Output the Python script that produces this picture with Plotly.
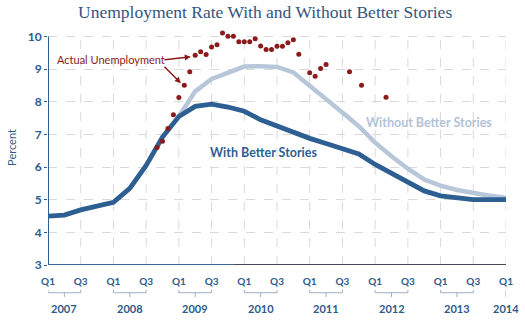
import plotly.graph_objects as go

# Quarter index 0 = 2007 Q1 ... 28 = 2014 Q1
quarters = list(range(29))

with_stories = [4.50, 4.53, 4.69, 4.79, 4.92, 5.35, 6.05, 6.92, 7.55, 7.86,
                7.93, 7.84, 7.71, 7.45, 7.26, 7.04, 6.88, 6.72, 6.57, 6.40,
                6.08, 5.80, 5.53, 5.27, 5.12, 5.05, 5.00, 5.00, 5.00]

without_q = list(range(8, 29))
without_stories = [7.55, 8.32, 8.70, 8.88, 9.08, 9.09, 9.07, 8.90, 8.50, 8.07,
                   7.67, 7.25, 6.75, 6.33, 5.95, 5.62, 5.43, 5.30, 5.20, 5.12,
                   5.06]

# Actual unemployment readings, months since Jan 2007
actual_month = [20, 21, 22, 23, 24, 25, 26, 27, 28, 29, 30, 31, 32, 33, 34,
                35, 36, 37, 38, 39, 40, 41, 42, 43, 44, 45, 46, 48, 49, 50,
                51, 55.3, 57.5, 62]
actual_rate = [6.60, 6.79, 7.18, 7.60, 8.13, 8.51, 8.92, 9.43, 9.53, 9.45,
               9.68, 9.75, 10.11, 10.01, 10.01, 9.84, 9.84, 9.84, 9.93, 9.71,
               9.60, 9.60, 9.70, 9.70, 9.81, 9.90, 9.46, 8.89, 8.78, 9.02,
               9.14, 8.92, 8.51, 8.14]

tick_vals = list(range(0, 29, 2))
tick_text = ["Q1" if i % 2 == 0 else "Q3" for i in range(len(tick_vals))]
years = [2007, 2008, 2009, 2010, 2011, 2012, 2013]
last_year = 2014

DARK = "#2e5f93"
LIGHT = "#b7c7d9"
LIGHT_TEXT = "#b2c3d6"
RED = "#8b1a1a"
LABEL = "#2d5b8a"
BRACKET = "#9fb0c2"
GRID = "#d9d9d9"

Y_MIN, Y_MAX = 3, 10

fig = go.Figure()

fig.add_trace(go.Scatter(
    x=without_q, y=without_stories, mode="lines",
    line=dict(color=LIGHT, width=4.5), hoverinfo="skip", showlegend=False))
fig.add_trace(go.Scatter(
    x=quarters, y=with_stories, mode="lines",
    line=dict(color=DARK, width=4.8), hoverinfo="skip", showlegend=False))
fig.add_trace(go.Scatter(
    x=[m / 3 for m in actual_month], y=actual_rate, mode="markers",
    marker=dict(color=RED, size=5), cliponaxis=False,
    hoverinfo="skip", showlegend=False))

shapes = []
# vertical dashed grid at every Q1 / Q3
for xv in tick_vals[1:]:
    shapes.append(dict(type="line", xref="x", yref="y", x0=xv, x1=xv,
                       y0=Y_MIN, y1=Y_MAX, layer="below",
                       line=dict(color=GRID, width=1, dash="dash")))
# left axis line
shapes.append(dict(type="line", xref="x", yref="y", x0=0, x1=0, y0=Y_MIN, y1=Y_MAX,
                   line=dict(color=DARK, width=2)))
# bottom axis line: blue segment then dark segment
shapes.append(dict(type="line", xref="x", yref="y", x0=0, x1=11.3, y0=Y_MIN, y1=Y_MIN,
                   line=dict(color="#3a6896", width=2)))
shapes.append(dict(type="line", xref="x", yref="y", x0=11.3, x1=28, y0=Y_MIN, y1=Y_MIN,
                   line=dict(color="#4a4858", width=2)))

annotations = []
# year brackets under the quarter labels
YB = -0.118
for i, yr in enumerate(years):
    x0, x1, xm = 4 * i, 4 * i + 2, 4 * i + 1
    shapes.append(dict(type="line", xref="x", yref="paper", x0=x0, x1=x1,
                       y0=YB, y1=YB, line=dict(color=BRACKET, width=1)))
    for xe in (x0, x1):
        shapes.append(dict(type="line", xref="x", yref="paper", x0=xe, x1=xe,
                           y0=YB, y1=YB + 0.012, line=dict(color=BRACKET, width=1)))
    shapes.append(dict(type="line", xref="x", yref="paper", x0=xm, x1=xm,
                       y0=YB, y1=YB - 0.018, line=dict(color=BRACKET, width=1)))
    annotations.append(dict(x=xm, y=-0.183, xref="x", yref="paper", text=str(yr),
                            showarrow=False, yanchor="middle",
                            font=dict(family="Lato", size=11, color=LABEL, weight="bold")))
shapes.append(dict(type="line", xref="x", yref="paper", x0=28, x1=28,
                   y0=YB + 0.012, y1=YB - 0.018, line=dict(color=BRACKET, width=1)))
annotations.append(dict(x=28, y=-0.183, xref="x", yref="paper", text=str(last_year),
                        showarrow=False, yanchor="middle",
                        font=dict(family="Lato", size=11, color=LABEL, weight="bold")))

# series labels
annotations.append(dict(x=13.15, y=6.44, xref="x", yref="y", text="With Better Stories",
                        showarrow=False,
                        font=dict(family="Lato", size=12.5, color=DARK, weight="bold")))
annotations.append(dict(x=23.3, y=7.36, xref="x", yref="y", text="Without Better Stories",
                        showarrow=False,
                        font=dict(family="Lato", size=12.5, color=LIGHT_TEXT, weight="bold")))

# actual unemployment callout with two arrows
tail_x = (162 - 46) / 16.5
annotations.append(dict(x=(54 - 46) / 16.5, y=9.31, xref="x", yref="y",
                        text="Actual Unemployment", showarrow=False, xanchor="left",
                        borderpad=0,
                        font=dict(family="Lato", size=11, color=RED)))
annotations.append(dict(x=(190 - 46) / 16.5, y=9.38,
                        ax=tail_x, ay=9.28, axref="x", ayref="y",
                        xref="x", yref="y", text="", showarrow=True,
                        arrowhead=2, arrowsize=0.8, arrowwidth=1.5, arrowcolor=RED))
annotations.append(dict(x=(180 - 46) / 16.5, y=8.57,
                        ax=tail_x, ay=9.12, axref="x", ayref="y",
                        xref="x", yref="y", text="", showarrow=True,
                        arrowhead=2, arrowsize=0.8, arrowwidth=1.5, arrowcolor=RED))

fig.update_layout(
    width=525, height=321,
    margin=dict(l=46, r=17, t=30, b=56),
    paper_bgcolor="white", plot_bgcolor="white",
    title=dict(text="Unemployment Rate With and Without Better Stories",
               x=0.505, xanchor="center", y=0.962, yanchor="middle",
               font=dict(family="Liberation Serif, Times New Roman, serif",
                         size=17.5, color="#34557f")),
    xaxis=dict(range=[0, 28], tickvals=tick_vals, ticktext=tick_text,
               showgrid=False, zeroline=False, showline=False, ticks="",
               ticklabelstandoff=9,
               tickfont=dict(family="Lato", size=10, color=LABEL, weight="bold"),
               fixedrange=True),
    yaxis=dict(range=[Y_MIN, 10.2], tickvals=list(range(Y_MIN, Y_MAX + 1)),
               showgrid=True, gridcolor=GRID, griddash="dash", gridwidth=1,
               zeroline=False, showline=False,
               ticks="outside", ticklen=3, tickcolor=DARK,
               tickfont=dict(family="Lato", size=12, color=LABEL, weight="bold"),
               title=dict(text="Percent", standoff=8,
                          font=dict(family="Lato", size=11, color=LABEL)),
               fixedrange=True),
    shapes=shapes, annotations=annotations,
)

fig.write_html("out.html")
